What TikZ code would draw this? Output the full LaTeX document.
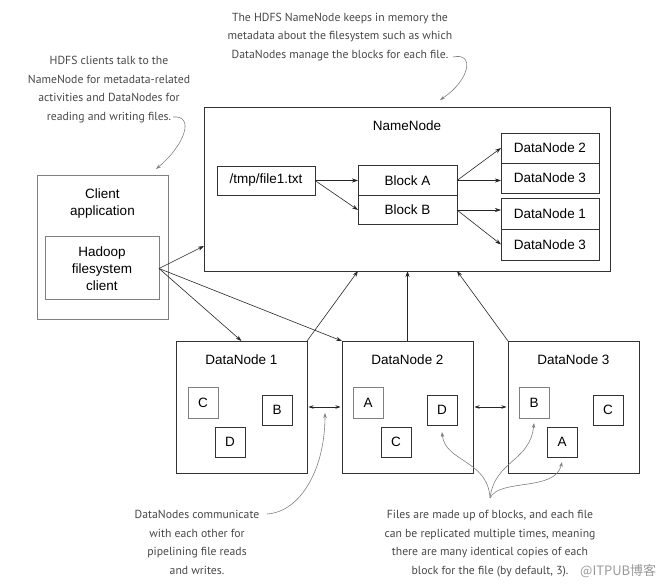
\documentclass[tikz,border=0pt]{standalone}
\usepackage{fontspec}
\setmainfont{Liberation Sans}
\newfontfamily\notefont{PT Sans}
\newfontfamily\cjkfont{Noto Sans CJK SC}
\usetikzlibrary{arrows.meta}
\usetikzlibrary{positioning}

\tikzset{
  box/.style={draw=black!80, line width=0.8pt, inner sep=0pt, outer sep=0pt, align=center,
    font=\fontsize{13.5}{17}\selectfont},
  greybox/.style={box, draw=black!50, line width=1pt},
  blockbox/.style={box, minimum width=30pt, minimum height=30pt},
  lbl/.style={inner sep=0pt, align=center, font=\fontsize{13.5}{17}\selectfont},
  note/.style={inner sep=0pt, align=center, text=black!72,
    font=\notefont\fontsize{11.7}{18.5}\selectfont},
  link/.style={-{Stealth[length=6pt,width=4pt]}, line width=0.6pt, black!85},
  pipe/.style={{Stealth[length=5pt,width=3.5pt]}-{Stealth[length=5pt,width=3.5pt]},
    line width=0.6pt, black!85, shorten <=1.5pt, shorten >=1.5pt},
  pointer/.style={-{Stealth[length=5pt,width=3.5pt]}, line width=0.6pt, black!50},
}

\begin{document}
\begin{tikzpicture}[x=1pt,y=-1pt]
\useasboundingbox (0,0) rectangle (667,585);

% notes
\node[note] (notenn) at (340,37) {The HDFS NameNode keeps in memory the\\metadata about the filesystem such as which\\DataNodes manage the blocks for each file.};
\node[note] (noteclient) at (109,89.5) {HDFS clients talk to the\\NameNode for metadata-related\\activities and DataNodes for\\reading and writing files.};
\node[note] (notepipe) at (197,542.5) {DataNodes communicate\\with each other for\\pipelining file reads\\and writes.};
\node[note] (noteblk) at (490,543.5) {Files are made up of blocks, and each file\\can be replicated multiple times, meaning\\there are many identical copies of each\\block for the file (by default, 3).};
\node[inner sep=0pt, anchor=base west, text=black!40, font=\cjkfont\fontsize{13}{13}\selectfont] (mark) at (580,575) {@ITPUB博客};

% client
\node[greybox, minimum width=131pt, minimum height=144pt] (client) at (102.5,248) {};
\node[lbl] (clientlbl) at (102.5,203.5) {Client\\application};
\node[greybox, minimum width=114pt, minimum height=63pt] (hadoop) at (102,268.5) {Hadoop\\filesystem\\client};

% namenode
\node[box, minimum width=406pt, minimum height=164pt] (nn) at (407,189) {};
\node[lbl] (nnlbl) at (407,126) {NameNode};
\node[box, minimum width=98pt, minimum height=29pt] (file) at (266,180.5) {/tmp/file1.txt};
\node[box, minimum width=99pt, minimum height=29.5pt] (blka) at (407.5,180.5) {Block A};
\node[box, minimum width=99pt, minimum height=29.5pt, below=0pt of blka] (blkb) {Block B};
\node[box, minimum width=98pt, minimum height=30pt] (dnta) at (550,148) {DataNode 2};
\node[box, minimum width=98pt, minimum height=30pt, below=0pt of dnta] (dnthreea) {DataNode 3};
\node[box, minimum width=98pt, minimum height=31pt] (dnoneb) at (550,213.5) {DataNode 1};
\node[box, minimum width=98pt, minimum height=31pt, below=0pt of dnoneb] (dnthreeb) {DataNode 3};

\draw[link] (file.east) -- (blka.west);
\draw[link] (file.east) -- (blkb.west);
\draw[link] (blka.east) -- (dnta.west);
\draw[link] (blka.east) -- (blka.east -| dnthreea.west);
\draw[link] (blkb.east) -- (blkb.east -| dnoneb.west);
\draw[link] (blkb.east) -- (dnthreeb.west);

% datanodes
\node[box, minimum width=131pt, minimum height=132pt] (dn1) at (241.5,407) {};
\node[box, minimum width=131pt, minimum height=132pt] (dn2) at (407.5,407) {};
\node[box, minimum width=131pt, minimum height=132pt] (dn3) at (573.5,407) {};
\node[lbl] (dn1lbl) at (241.5,360) {DataNode 1};
\node[lbl] (dn2lbl) at (407.5,360) {DataNode 2};
\node[lbl] (dn3lbl) at (573.5,360) {DataNode 3};

\node[blockbox, draw=black!50, line width=1pt] (dn1c) at (203,403) {C};
\node[blockbox] (dn1b) at (277,410) {B};
\node[blockbox] (dn1d) at (230,442) {D};
\node[blockbox, draw=black!50, line width=1pt] (dn2a) at (368,403) {A};
\node[blockbox] (dn2d) at (442,410) {D};
\node[blockbox] (dn2c) at (396,442) {C};
\node[blockbox, draw=black!50, line width=1pt] (dn3b) at (534,403) {B};
\node[blockbox] (dn3c) at (608,410) {C};
\node[blockbox] (dn3a) at (562,442) {A};

\draw[pipe] (dn1.east) -- (dn2.west);
\draw[pipe] (dn2.east) -- (dn3.west);

% client and datanodes to namenode
\draw[link] (hadoop.east) -- ([yshift=25pt]nn.south west);
\draw[link] (hadoop.east) -- (dn1.north);
\draw[link] (hadoop.east) -- (dn2.north west);
\draw[link] (dn1.north east) -- (blkb.west |- nn.south);
\draw[link] (dn2.north) -- (dn2.north |- nn.south);
\draw[link] (dn3.north west) -- (blkb.east |- nn.south);

% pointers from the notes
\coordinate (clientend) at (173,117);
\coordinate (nnend) at (453,57);
\coordinate (pipeend) at (267,514);
\coordinate (pipetip) at (325,413);
\coordinate (fan) at (490,498);
\draw[pointer] (clientend) .. controls (195,115) and (185,145) .. (156,169);
\draw[pointer] (nnend) .. controls (475,52) and (470,80) .. (440,100);
\draw[pointer] (pipeend) .. controls (300,512) and (325,470) .. (pipetip);
\draw[pointer] (fan) .. controls (488,460) and (445,462) .. ([yshift=-7pt]dn2d.south);
\draw[pointer] (fan) .. controls (495,460) and (530,462) .. ([yshift=-5pt]dn3b.south);
\draw[pointer] (fan) .. controls (500,478) and (555,492) .. ([yshift=-5pt]dn3a.south);
\end{tikzpicture}
\end{document}
